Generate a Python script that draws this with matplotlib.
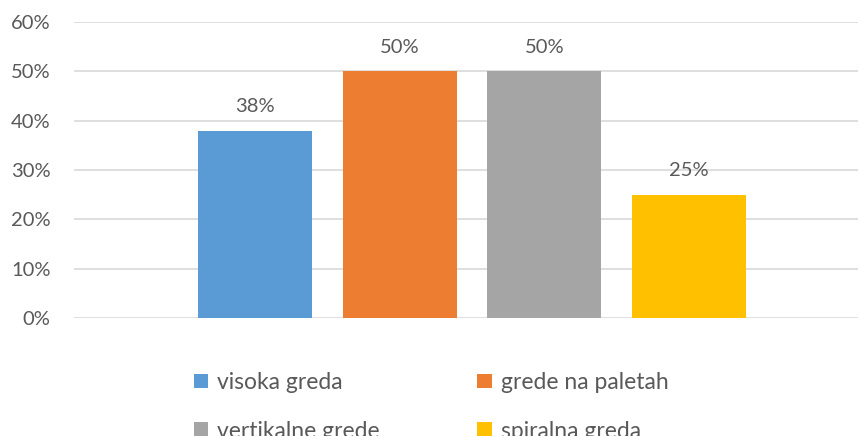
import matplotlib
matplotlib.use("Agg")
import matplotlib.pyplot as plt
from matplotlib.patches import Patch
from matplotlib.ticker import FuncFormatter, MultipleLocator

series = ["visoka greda", "grede na paletah", "vertikalne grede", "spiralna greda"]
values = [0.38, 0.50, 0.50, 0.25]
colors = ["#5B9BD5", "#ED7D31", "#A5A5A5", "#FFC000"]
data_labels = ["38%", "50%", "50%", "25%"]

plt.rcParams['font.family'] = ['Lato', 'DejaVu Sans']
txt = "#595959"

fig = plt.figure(figsize=(8.59, 4.36), dpi=100)
ax = fig.add_axes([74/859, 118/436, 784/859, (318-22)/436])

center = 0.5077
spacing = 0.1845
width = 0.1454
for i, (s, v, c, lab) in enumerate(zip(series, values, colors, data_labels)):
    x = center + (i - 1.5) * spacing
    ax.bar(x, v, width=width, color=c, zorder=3)
    ax.annotate(lab, (x, v), xytext=(0, 11), textcoords="offset points",
                ha="center", va="bottom", fontsize=14.5, color=txt)

ax.set_xlim(0, 1)
ax.set_ylim(0, 0.6)
ax.yaxis.set_major_locator(MultipleLocator(0.1))
ax.yaxis.set_major_formatter(FuncFormatter(lambda v, p: f"{v*100:.0f}%"))
ax.grid(axis="y", color="#D9D9D9", linewidth=1.2, zorder=0)
for sp in ax.spines.values():
    sp.set_visible(False)
ax.tick_params(axis="y", length=0, pad=17, labelsize=14.5, labelcolor=txt)
ax.tick_params(axis="x", bottom=False, labelbottom=False)

order = [0, 2, 1, 3]
handles = [Patch(facecolor=colors[i], edgecolor="none") for i in order]
labels = [series[i] for i in order]
fig.legend(handles, labels, loc="upper left", bbox_to_anchor=(194/859, 1 - 372/436),
           ncol=2, frameon=False, fontsize=16.5, labelcolor=txt,
           handlelength=0.62, handleheight=0.62, handletextpad=0.4,
           columnspacing=4.25, labelspacing=1.2, borderaxespad=0, borderpad=0)

fig.savefig("out.png", dpi=100)
